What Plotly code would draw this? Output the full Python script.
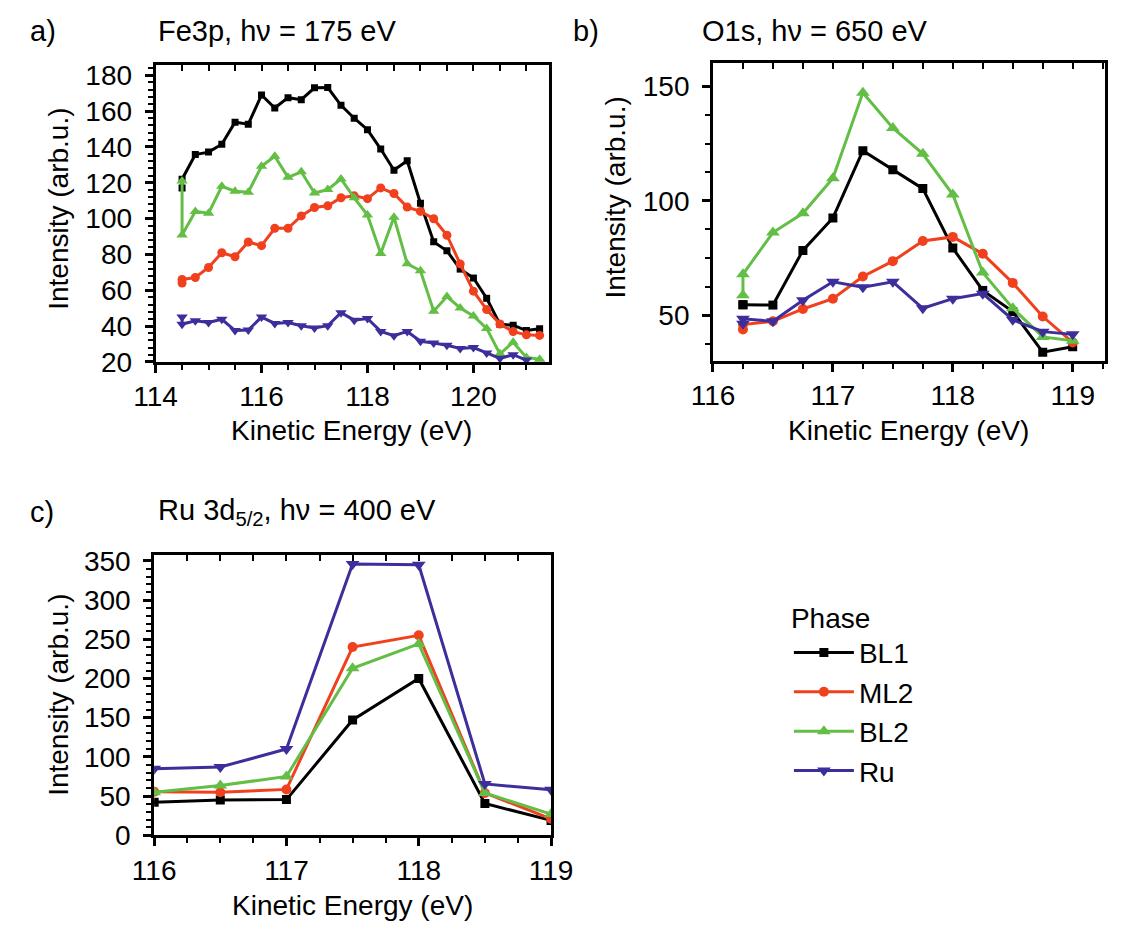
import plotly.graph_objects as go

W, H = 1129, 931

# ---------------- data ----------------
# panel a: Fe3p, hv = 175 eV
xa = [114.5, 114.5, 114.75, 115.0, 115.25, 115.5, 115.75, 116.0, 116.25, 116.5, 116.75,
      117.0, 117.25, 117.5, 117.75, 118.0, 118.25, 118.5, 118.75, 119.0, 119.25, 119.5,
      119.75, 120.0, 120.25, 120.5, 120.75, 121.0, 121.25]
a_bl1 = [117, 122, 135.7, 137.1, 141.5, 153.8, 152.7, 169, 161.7, 167.5, 166.4, 173, 173.1,
         163.2, 156, 149.6, 138.8, 127, 132.3, 108.6, 87, 82, 71.8, 66.8, 55.5, 41, 40.5, 37.5, 38.5]
a_ml2 = [64, 66, 67.1, 72.7, 80.9, 78.7, 86.9, 84.9, 94.6, 94.6, 101.5, 106.2, 107.1, 111.6,
         112.7, 111.1, 117.1, 114, 106.4, 104, 99.9, 90.7, 74.7, 59.5, 49.2, 41.1, 36.9, 35.1, 34.8]
a_bl2 = [121, 90.8, 104, 103, 118, 115.3, 114.7, 129.2, 134.8, 123, 126.1, 114.3, 116.2, 122.1,
         111.6, 102, 80.5, 100.8, 74.8, 70.9, 48.3, 56.5, 50.1, 45.6, 38.7, 24.5, 31, 22.5, 21.5]
a_ru = [45, 41, 42.9, 42, 43.8, 37.5, 37.8, 45, 41.5, 42, 40.2, 38.9, 40.2, 47.5, 43.3, 44.2,
        37, 34.6, 37, 31.5, 30.6, 29.3, 27.5, 28, 25, 22, 24, 21, None]

# panel b: O1s, hv = 650 eV
xb = [116.25, 116.25, 116.5, 116.75, 117.0, 117.25, 117.5, 117.75, 118.0, 118.25, 118.5, 118.75, 119.0]
b_bl1 = [54.5, 54.5, 54.4, 78.3, 92.5, 121.9, 113.6, 105.3, 79.3, 60.8, 51.6, 33.8, 36.2]
b_ml2 = [43.7, 45.9, 47.3, 52.7, 57.2, 66.9, 73.6, 82.4, 84.2, 76.8, 64.1, 49.4, 38.1]
b_bl2 = [58.7, 67.9, 86.1, 94.5, 109.8, 147.2, 131.8, 120.5, 102.7, 68.6, 53, 40.5, 38.8]
b_ru = [46.2, 48.4, 47.3, 56.5, 64.6, 62.2, 64.6, 53, 57.2, 59.4, 48, 42.8, 41.6]

# panel c: Ru 3d5/2, hv = 400 eV
xc = [116.0, 116.5, 117.0, 117.5, 118.0, 118.5, 119.0]
c_bl1 = [42, 45, 45.5, 147, 200, 40.5, 19]
c_ml2 = [55.5, 55, 58.5, 240, 255, 54, 21]
c_bl2 = [55, 63.5, 75, 213, 244, 54, 27]
c_ru = [85, 87, 110, 346, 345, 65.5, 58]

phases = ["BL1", "ML2", "BL2", "Ru"]
colors = {"BL1": "#000000", "ML2": "#F0401E", "BL2": "#62BE45", "Ru": "#3C2E9B"}
symbols = {"BL1": "square", "ML2": "circle", "BL2": "triangle-up", "Ru": "triangle-down"}
msize_a = {"BL1": 7, "ML2": 9, "BL2": 10, "Ru": 10}
msize = {"BL1": 9, "ML2": 10, "BL2": 12, "Ru": 12}

FONT = "Liberation Sans, Arial, sans-serif"
TICK = 28
LAB = 28


def px(x):
    return x / W


def py(y):
    return 1 - y / H


fig = go.Figure()

panels = [
    ("x", "y", xa, {"BL1": a_bl1, "ML2": a_ml2, "BL2": a_bl2, "Ru": a_ru}, msize_a, False),
    ("x2", "y2", xb, {"BL1": b_bl1, "ML2": b_ml2, "BL2": b_bl2, "Ru": b_ru}, msize, False),
    ("x3", "y3", xc, {"BL1": c_bl1, "ML2": c_ml2, "BL2": c_bl2, "Ru": c_ru}, msize, True),
]
for xr, yr, xs, data, ms, leg in panels:
    for p in phases:
        fig.add_trace(go.Scatter(
            x=xs, y=data[p], mode="lines+markers", name=p,
            xaxis=xr, yaxis=yr, showlegend=leg, connectgaps=False,
            line=dict(color=colors[p], width=3),
            marker=dict(symbol=symbols[p], size=ms[p], color=colors[p], line=dict(width=0)),
        ))

# empty traces to activate top (inside tick) overlay axes
for xr, yr in [("x4", "y"), ("x5", "y2"), ("x6", "y3")]:
    fig.add_trace(go.Scatter(x=[], y=[], xaxis=xr, yaxis=yr, showlegend=False, hoverinfo="skip"))

common = dict(showline=True, linewidth=2.8, linecolor="black", mirror=True,
              ticks="outside", ticklen=8, tickwidth=2.6, tickcolor="black",
              showgrid=False, zeroline=False,
              tickfont=dict(size=TICK, color="black", family=FONT))
minor_kw = dict(ticks="outside", ticklen=5, tickwidth=2.2, tickcolor="black")

doms = {
    "a": ([px(139), px(548)], [py(362), py(57)]),
    "b": ([px(719), px(1127)], [py(361), py(55)]),
    "c": ([px(137.5), px(550.5)], [py(849), py(561)]),
}
xrng = {"a": [114, 121.42], "b": [116, 119.27], "c": [116, 119]}
xd = {"a": (2, 0.5), "b": (1, 0.25), "c": (1, 0.25)}

fig.update_layout(
    xaxis=dict(domain=doms["a"][0], anchor="y", range=xrng["a"], dtick=2, tick0=114,
               ticklabelstandoff=0, minor=dict(dtick=0.5, **minor_kw), **common),
    yaxis=dict(domain=doms["a"][1], anchor="x", range=[20, 185.5], dtick=20, tick0=20,
               ticklabelstandoff=7, minor=dict(dtick=4, **minor_kw), **common),
    xaxis2=dict(domain=doms["b"][0], anchor="y2", range=xrng["b"], dtick=1, tick0=116,
                ticklabelstandoff=0, minor=dict(dtick=0.25, **minor_kw), **common),
    yaxis2=dict(domain=doms["b"][1], anchor="x2", range=[30, 160], dtick=50, tick0=0,
                ticklabelstandoff=7, minor=dict(dtick=12.5, **minor_kw), **common),
    xaxis3=dict(domain=doms["c"][0], anchor="y3", range=xrng["c"], dtick=1, tick0=116,
                ticklabelstandoff=0, minor=dict(dtick=0.25, **minor_kw), **common),
    yaxis3=dict(domain=doms["c"][1], anchor="x3", range=[0, 357], dtick=50, tick0=0,
                ticklabelstandoff=7, minor=dict(dtick=10, **minor_kw), **common),
)

# top axes with inward ticks
for name, base, key in [("xaxis4", "x", "a"), ("xaxis5", "x2", "b"), ("xaxis6", "x3", "c")]:
    d, m = xd[key]
    fig.layout[name] = dict(overlaying=base, side="top", anchor={"x": "y", "x2": "y2", "x3": "y3"}[base],
                            range=xrng[key], dtick=d, tick0=116 if key != "a" else 114,
                            ticks="inside", ticklen=6, tickwidth=1.8, tickcolor="black",
                            showticklabels=False, showline=False, showgrid=False, zeroline=False,
                            minor=dict(dtick=m, ticks="inside", ticklen=6, tickwidth=1.8, tickcolor="black"))

ann = []


def text(x, y, s, size=LAB, angle=0, xanchor="left"):
    ann.append(dict(x=px(x), y=py(y), xref="paper", yref="paper", text=s, showarrow=False,
                    xanchor=xanchor, yanchor="middle", textangle=angle,
                    font=dict(size=size, color="black", family=FONT)))


# panel labels and titles
text(6, 22, "a)", size=29)
text(139, 22, "Fe3p, h\u03bd = 175 eV", size=29)
text(571, 22, "b)", size=29)
text(706, 22, "O1s, h\u03bd = 650 eV", size=29)
text(6, 516, "c)", size=29)
text(139, 516, "Ru 3d<sub>5/2</sub>, h\u03bd = 400 eV", size=29)

# axis titles
text(343, 433, "Kinetic Energy (eV)", xanchor="center")
text(922, 433, "Kinetic Energy (eV)", xanchor="center")
text(344, 921, "Kinetic Energy (eV)", xanchor="center")
text(38, 205, "Intensity (arb.u.)", angle=-90, xanchor="center")
text(618, 193, "Intensity (arb.u.)", angle=-90, xanchor="center")
text(38, 705, "Intensity (arb.u.)", angle=-90, xanchor="center")

fig.update_layout(
    width=W, height=H, margin=dict(l=0, r=0, t=0, b=0),
    paper_bgcolor="white", plot_bgcolor="white",
    font=dict(family=FONT, color="black"),
    annotations=ann,
    legend=dict(x=px(798), y=py(598), xanchor="left", yanchor="top",
                title=dict(text="Phase", font=dict(size=LAB, family=FONT)),
                font=dict(size=LAB, family=FONT), tracegroupgap=0,
                itemwidth=60, bgcolor="rgba(0,0,0,0)"),
)

fig.write_html("out.html")
